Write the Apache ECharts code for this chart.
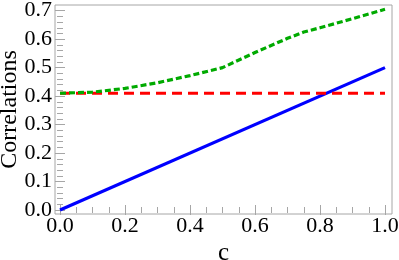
<!DOCTYPE html>
<html>
<head>
<meta charset="utf-8">
<script src="https://cdn.jsdelivr.net/npm/echarts@6/dist/echarts.min.js"></script>
<style>html,body{margin:0;padding:0;background:#fff;}#c{width:399px;height:260px;}</style>
</head>
<body>
<div id="c"></div>
<script>
// Data
const cBlue = [0, 1];
const blueVals = [0, 0.5];
const cRed = [0, 1];
const redVals = [0.41, 0.41];
const cGreen = [0, 0.1, 0.2, 0.3, 0.4, 0.5, 0.6, 0.7, 0.75, 0.8, 0.9, 1.0];
const greenVals = [0.41, 0.414, 0.427, 0.447, 0.472, 0.5, 0.553, 0.603, 0.625, 0.64, 0.672, 0.705];
// Tick positions
const xMajor = [0, 0.2, 0.4, 0.6, 0.8, 1.0];
const xMinor = [0.05, 0.1, 0.15, 0.25, 0.3, 0.35, 0.45, 0.5, 0.55, 0.65, 0.7, 0.75, 0.85, 0.9, 0.95];
const yMajor = [0, 0.1, 0.2, 0.3, 0.4, 0.5, 0.6, 0.7];
const yMinor = [0.02, 0.04, 0.06, 0.08, 0.12, 0.14, 0.16, 0.18, 0.22, 0.24, 0.26, 0.28, 0.32, 0.34, 0.36, 0.38, 0.42, 0.44, 0.46, 0.48, 0.52, 0.54, 0.56, 0.58, 0.62, 0.64, 0.66, 0.68];
const xName = 'c';
const yName = 'Correlations';

const FONT = 'Liberation Serif';
const TICKC = '#a6a6a6';
const xMin = -0.0154, xMax = 1.0215, yMin = -0.014, yMax = 0.72;

function xAx(pos, vals, len, labels, extra) {
  return Object.assign({
    type: 'value', position: pos, min: xMin, max: xMax,
    axisLine: {show: false},
    splitLine: {show: false},
    nameMoveOverlap: false,
    axisTick: {show: true, inside: true, length: len, customValues: vals, lineStyle: {color: TICKC, width: 1}},
    axisLabel: labels ? {show: true, customValues: xMajor, formatter: v => v.toFixed(1), fontFamily: FONT, fontSize: 22, color: '#000', margin: 1} : {show: false}
  }, extra || {});
}
function yAx(pos, vals, len, labels, extra) {
  return Object.assign({
    type: 'value', position: pos, min: yMin, max: yMax,
    axisLine: {show: false},
    splitLine: {show: false},
    nameMoveOverlap: false,
    axisTick: {show: true, inside: true, length: len, customValues: vals, lineStyle: {color: TICKC, width: 1}},
    axisLabel: labels ? {show: true, customValues: yMajor, formatter: v => v.toFixed(1), fontFamily: FONT, fontSize: 22, color: '#000', margin: 3} : {show: false}
  }, extra || {});
}

const chart = echarts.init(document.getElementById('c'), null, {renderer: 'canvas'});
chart.setOption({
  animation: false,
  grid: {left: 55, right: 7, top: 5, bottom: 46, containLabel: false, outerBoundsMode: 'none', show: true, borderColor: '#a6a6a6', borderWidth: 1, backgroundColor: 'transparent'},
  xAxis: [
    xAx('bottom', xMajor, 5, true, {name: xName, nameLocation: 'middle', nameGap: 27, nameTextStyle: {fontFamily: FONT, fontSize: 25, color: '#000'}}),
    xAx('bottom', xMinor, 3, false),
    xAx('top', xMajor, 5, false),
    xAx('top', xMinor, 3, false)
  ],
  yAxis: [
    yAx('left', yMajor, 5, true, {name: yName, nameLocation: 'middle', nameGap: 33, nameTextStyle: {fontFamily: FONT, fontSize: 24, color: '#000'}}),
    yAx('left', yMinor, 3, false),
    yAx('right', yMajor, 5, false),
    yAx('right', yMinor, 3, false)
  ],
  series: [
    {type: 'line', xAxisIndex: 0, yAxisIndex: 0, data: cBlue.map((c, i) => [c, blueVals[i]]), showSymbol: false, lineStyle: {color: '#0000ff', width: 3.2}},
    {type: 'line', xAxisIndex: 0, yAxisIndex: 0, data: cRed.map((c, i) => [c, redVals[i]]), showSymbol: false, lineStyle: {color: '#ff0000', width: 3.2, type: [10, 6]}},
    {type: 'line', xAxisIndex: 0, yAxisIndex: 0, data: cGreen.map((c, i) => [c, greenVals[i]]), showSymbol: false, lineStyle: {color: '#00aa00', width: 3.2, type: [6, 3]}}
  ]
});
</script>
</body>
</html>
